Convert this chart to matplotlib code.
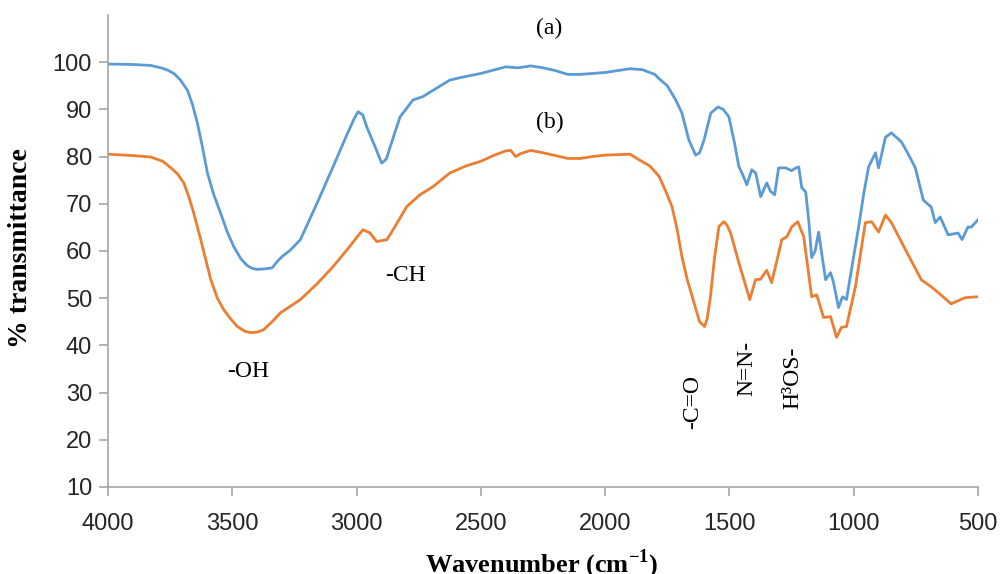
import matplotlib
matplotlib.use("Agg")
import matplotlib.pyplot as plt

# FTIR spectra: wavenumber (cm-1) and % transmittance
wn_a = [4000, 3900, 3828, 3780, 3760, 3735, 3710, 3680, 3660, 3640, 3620, 3600,
        3575, 3547, 3520, 3494, 3465, 3440, 3420, 3400, 3370, 3340, 3320, 3300,
        3266, 3226, 3160, 3094, 3040, 3010, 2994, 2975, 2959, 2925, 2899, 2880,
        2865, 2825, 2773, 2733, 2693, 2625, 2575, 2500, 2450, 2400, 2350, 2300,
        2250, 2200, 2150, 2100, 2050, 2000, 1950, 1900, 1850, 1800, 1783, 1750,
        1716, 1691, 1663, 1636, 1620, 1602, 1575, 1546, 1525, 1502, 1480, 1462,
        1445, 1430, 1410, 1394, 1374, 1350, 1334, 1318, 1302, 1273, 1250, 1233,
        1221, 1209, 1193, 1180, 1169, 1155, 1141, 1129, 1113, 1093, 1081, 1061,
        1045, 1029, 1009, 980, 960, 940, 912, 900, 872, 848, 808, 780, 752, 720,
        688, 672, 652, 620, 580, 564, 540, 528, 500]
t_a = [99.6, 99.5, 99.3, 98.7, 98.3, 97.6, 96.3, 94.0, 91.0, 87.0, 82.0, 76.5,
       72.0, 68.0, 64.0, 60.9, 58.3, 56.9, 56.3, 56.1, 56.2, 56.4, 57.7, 58.8,
       60.2, 62.4, 70.0, 77.9, 84.5, 88.0, 89.5, 88.8, 86.3, 82.0, 78.6, 79.5,
       82.0, 88.4, 92.0, 92.7, 94.0, 96.2, 96.8, 97.6, 98.3, 99.0, 98.8, 99.2,
       98.8, 98.2, 97.4, 97.4, 97.6, 97.8, 98.2, 98.6, 98.4, 97.4, 96.5, 95.0,
       92.0, 89.2, 83.5, 80.3, 80.8, 83.5, 89.2, 90.5, 90.0, 88.4, 83.0, 77.9,
       76.0, 74.0, 77.2, 76.5, 71.5, 74.4, 72.6, 71.9, 77.6, 77.6, 77.0, 77.6,
       77.8, 73.4, 72.5, 66.0, 58.6, 60.0, 64.0, 59.6, 53.9, 55.4, 53.3, 48.0,
       50.3, 49.7, 56.0, 65.1, 72.0, 77.8, 80.8, 77.6, 84.1, 85.0, 83.1, 80.5,
       77.6, 70.8, 69.3, 66.0, 67.2, 63.4, 63.8, 62.4, 65.1, 65.0, 66.6]

wn_b = [4000, 3900, 3828, 3780, 3747, 3720, 3695, 3675, 3655, 3627, 3587, 3560,
        3535, 3505, 3480, 3450, 3427, 3400, 3374, 3340, 3306, 3226, 3160, 3094,
        3030, 2990, 2974, 2946, 2919, 2878, 2853, 2798, 2745, 2693, 2625, 2560,
        2500, 2450, 2400, 2380, 2360, 2340, 2300, 2250, 2200, 2150, 2100, 2050,
        2000, 1950, 1900, 1863, 1820, 1783, 1755, 1731, 1710, 1691, 1670, 1650,
        1620, 1600, 1590, 1576, 1560, 1542, 1522, 1510, 1495, 1462, 1418, 1395,
        1375, 1350, 1330, 1289, 1269, 1249, 1225, 1201, 1169, 1149, 1121, 1093,
        1069, 1049, 1029, 993, 953, 928, 900, 872, 848, 792, 728, 688, 660, 608,
        552, 500]
t_b = [80.5, 80.2, 79.9, 79.0, 77.6, 76.3, 74.4, 71.5, 68.0, 62.4, 54.0, 50.0,
       47.6, 45.5, 44.0, 43.0, 42.7, 42.8, 43.3, 45.0, 46.9, 49.7, 53.0, 56.7,
       60.8, 63.5, 64.5, 63.8, 62.0, 62.4, 64.5, 69.4, 71.9, 73.6, 76.5, 78.0,
       79.0, 80.2, 81.2, 81.3, 80.0, 80.6, 81.3, 80.8, 80.2, 79.6, 79.6, 80.0,
       80.3, 80.4, 80.5, 79.3, 78.0, 75.8, 72.5, 69.4, 64.5, 58.8, 54.0, 50.4,
       45.0, 44.0, 45.5, 50.4, 58.5, 65.2, 66.2, 65.5, 63.8, 57.5, 49.7, 53.9,
       54.0, 55.9, 53.3, 62.4, 63.0, 65.1, 66.2, 63.0, 50.3, 50.7, 45.9, 46.1,
       41.7, 43.8, 44.0, 52.4, 66.0, 66.2, 64.0, 67.6, 66.0, 60.3, 53.9, 52.4,
       51.2, 48.8, 50.1, 50.3]

x_ticks = [4000, 3500, 3000, 2500, 2000, 1500, 1000, 500]
y_ticks = [10, 20, 30, 40, 50, 60, 70, 80, 90, 100]

plt.rcParams["mathtext.fontset"] = "custom"
plt.rcParams["mathtext.rm"] = "Liberation Serif:bold"
plt.rcParams["mathtext.bf"] = "Liberation Serif:bold"

fig = plt.figure(figsize=(10.02, 5.74), dpi=100)
ax = fig.add_axes([0.1078, 0.1516, 0.976 - 0.1078, 0.974 - 0.1516])

ax.plot(wn_a, t_a, color="#5B9BD5", lw=2.0, solid_joinstyle="round")
ax.plot(wn_b, t_b, color="#ED7D31", lw=2.0, solid_joinstyle="round")

ax.set_xlim(4000, 500)
ax.set_ylim(10, 110)
ax.set_xticks(x_ticks)
ax.set_yticks(y_ticks)

for side in ("top", "right"):
    ax.spines[side].set_visible(False)
for side in ("left", "bottom"):
    ax.spines[side].set_color("#A6A6A6")
    ax.spines[side].set_linewidth(1.2)
ax.tick_params(axis="both", direction="out", length=6.5, width=1.2,
               color="#A6A6A6", labelsize=17, labelcolor="#262626", pad=5)
ax.tick_params(axis="x", pad=12)
for lab in ax.get_xticklabels() + ax.get_yticklabels():
    lab.set_fontfamily("Liberation Sans")

serif = "Liberation Serif"
ax.set_ylabel("% transmittance", fontfamily=serif, fontweight="bold",
              fontsize=20)
ax.yaxis.set_label_coords(-0.086, 0.506)
ax.set_xlabel(r"Wavenumber (cm$^{-1}$)", fontfamily=serif, fontweight="bold",
              fontsize=19)
ax.xaxis.set_label_coords(0.498, -0.128)

ann = dict(fontfamily=serif, fontsize=17, color="black",
           ha="center", va="center")
ax.text(2226, 107.2, "(a)", **ann)
ax.text(2222, 87.3, "(b)", **ann)
ax.text(3437, 34.4, "-OH", **ann)
ax.text(2805, 54.9, "-CH", **ann)
ax.text(1647, 28.0, "-C=O", rotation=90, **ann)
ax.text(1429, 35.2, "N=N-", rotation=90, **ann)
ax.text(1244, 33.1, "H\u00b3OS-", rotation=90, **ann)

fig.savefig("out.png", dpi=100)
